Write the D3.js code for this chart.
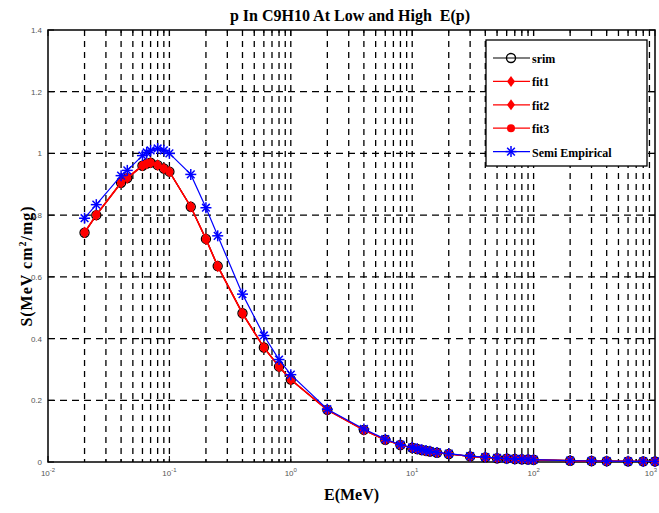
<!DOCTYPE html>
<html>
<head>
<meta charset="utf-8">
<script src="https://cdn.jsdelivr.net/npm/d3@7"></script>
<style>
  body { margin: 0; background: #fff; }
  svg { display: block; }
</style>
</head>
<body>
<svg id="chart"></svg>
<script>
// data
const energy = [0.02, 0.025, 0.04, 0.045, 0.06, 0.065, 0.07, 0.08, 0.09, 0.1, 0.15, 0.2, 0.25, 0.4, 0.6, 0.8, 1,
  2, 4, 6, 8, 10, 11, 12, 13, 14, 16, 20, 30, 40, 50, 60, 70, 80, 90, 100, 200, 300, 400, 600, 800, 1000];
const srim = [0.743, 0.80, 0.905, 0.92, 0.96, 0.967, 0.97, 0.962, 0.951, 0.941, 0.827, 0.723, 0.635, 0.482, 0.371, 0.309, 0.267,
  0.169, 0.104, 0.072, 0.055, 0.046, 0.042, 0.039, 0.036, 0.034, 0.030, 0.026, 0.018, 0.015, 0.012, 0.011, 0.0095, 0.0087, 0.008, 0.0072, 0.0042, 0.0031, 0.0026, 0.0021, 0.0019, 0.0018];
const fit1 = [0.745, 0.802, 0.907, 0.922, 0.962, 0.968, 0.971, 0.963, 0.952, 0.942, 0.826, 0.721, 0.633, 0.480, 0.370, 0.308, 0.266,
  0.168, 0.103, 0.071, 0.055, 0.046, 0.042, 0.039, 0.036, 0.034, 0.030, 0.026, 0.018, 0.015, 0.012, 0.011, 0.0095, 0.0087, 0.008, 0.0072, 0.0042, 0.0031, 0.0026, 0.0021, 0.0019, 0.0018];
const fit2 = [0.742, 0.799, 0.904, 0.919, 0.959, 0.966, 0.969, 0.961, 0.950, 0.940, 0.828, 0.724, 0.636, 0.483, 0.372, 0.310, 0.268,
  0.169, 0.104, 0.072, 0.055, 0.046, 0.042, 0.039, 0.036, 0.034, 0.030, 0.026, 0.018, 0.015, 0.012, 0.011, 0.0095, 0.0087, 0.008, 0.0072, 0.0042, 0.0031, 0.0026, 0.0021, 0.0019, 0.0018];
const fit3 = [0.744, 0.801, 0.906, 0.921, 0.961, 0.967, 0.970, 0.962, 0.951, 0.941, 0.827, 0.722, 0.634, 0.481, 0.371, 0.309, 0.267,
  0.169, 0.104, 0.072, 0.055, 0.046, 0.042, 0.039, 0.036, 0.034, 0.030, 0.026, 0.018, 0.015, 0.012, 0.011, 0.0095, 0.0087, 0.008, 0.0072, 0.0042, 0.0031, 0.0026, 0.0021, 0.0019, 0.0018];
const semi = [0.79, 0.834, 0.928, 0.945, 0.993, 1.003, 1.01, 1.016, 1.01, 1.0, 0.932, 0.824, 0.733, 0.544, 0.41, 0.332, 0.283,
  0.171, 0.107, 0.074, 0.056, 0.047, 0.043, 0.040, 0.037, 0.035, 0.031, 0.027, 0.019, 0.016, 0.013, 0.011, 0.010, 0.009, 0.0083, 0.0075, 0.0045, 0.0033, 0.0028, 0.0023, 0.002, 0.0019];
const yTicks = [0, 0.2, 0.4, 0.6, 0.8, 1, 1.2, 1.4];
const xDecades = [-2, -1, 0, 1, 2, 3];
const legendNames = ["srim", "fit1", "fit2", "fit3", "Semi Empirical"];

const width = 659;
const height = 513;
const margin = { left: 48, right: 4, top: 30, bottom: 51 };
const visWidth = width - margin.left - margin.right;
const visHeight = height - margin.top - margin.bottom;

const svg = d3.select('#chart')
  .attr('width', width)
  .attr('height', height);

const chart = svg.append('g')
  .attr('transform', 'translate(' + margin.left + ',' + margin.top + ')');

const x = d3.scaleLog().domain([0.01, 1000]).range([0, visWidth]);
const y = d3.scaleLinear().domain([0, 1.4]).range([visHeight, 0]);

// grid values: every 1..9 in each decade
const gridX = [];
xDecades.slice(0, -1).forEach(p => {
  for (let k = 1; k <= 9; k++) gridX.push(k * Math.pow(10, p));
});
gridX.push(1000);

// dashed grid
chart.append('g').selectAll('line')
  .data(gridX.slice(1, -1))
  .enter().append('line')
  .attr('x1', d => x(d)).attr('x2', d => x(d))
  .attr('y1', 0).attr('y2', visHeight)
  .attr('stroke', '#000')
  .attr('stroke-width', 1.3)
  .attr('stroke-dasharray', '6,5');

chart.append('g').selectAll('line')
  .data(yTicks.slice(1, -1))
  .enter().append('line')
  .attr('x1', 0).attr('x2', visWidth)
  .attr('y1', d => y(d)).attr('y2', d => y(d))
  .attr('stroke', '#000')
  .attr('stroke-width', 1.3)
  .attr('stroke-dasharray', '7,5');

// inward ticks on all four sides
const tickG = chart.append('g').attr('stroke', '#000').attr('stroke-width', 1);
gridX.forEach(d => {
  const len = Number.isInteger(Math.log10(d)) && d >= 0.01 ? 6 : 3;
  tickG.append('line').attr('x1', x(d)).attr('x2', x(d)).attr('y1', visHeight).attr('y2', visHeight - len);
  tickG.append('line').attr('x1', x(d)).attr('x2', x(d)).attr('y1', 0).attr('y2', len);
});
yTicks.forEach(d => {
  tickG.append('line').attr('x1', 0).attr('x2', 6).attr('y1', y(d)).attr('y2', y(d));
  tickG.append('line').attr('x1', visWidth).attr('x2', visWidth - 6).attr('y1', y(d)).attr('y2', y(d));
});

// frame
chart.append('rect')
  .attr('width', visWidth).attr('height', visHeight)
  .attr('fill', 'none').attr('stroke', '#000').attr('stroke-width', 1.5);

// tick labels
chart.append('g').selectAll('text')
  .data(yTicks)
  .enter().append('text')
  .attr('x', -6)
  .attr('y', d => y(d) + 3)
  .attr('text-anchor', 'end')
  .style('font', '8px "Liberation Sans", Arial, sans-serif')
  .style('fill', '#555')
  .text(d => d);

const xl = chart.append('g').selectAll('text')
  .data(xDecades)
  .enter().append('text')
  .attr('x', (d, i) => i === xDecades.length - 1 ? visWidth + 2 : x(Math.pow(10, d)))
  .attr('y', visHeight + 14)
  .attr('text-anchor', (d, i) => i === xDecades.length - 1 ? 'end' : 'middle')
  .style('font', '8px "Liberation Sans", Arial, sans-serif')
  .style('fill', '#555');
xl.append('tspan').text('10');
xl.append('tspan').attr('dy', -4).style('font-size', '6px').text(d => d);

// series
const line = d3.line().x((d, i) => x(energy[i])).y(d => y(d));
const series = [
  { vals: srim, color: '#000', marker: 'circle' },
  { vals: fit1, color: '#ff0000', marker: 'diamond' },
  { vals: fit2, color: '#ff0000', marker: 'diamond' },
  { vals: fit3, color: '#ff0000', marker: 'dot' },
  { vals: semi, color: '#0000ff', marker: 'star' }
];

function drawMarker(g, type, color, cx, cy) {
  if (type === 'circle') {
    g.append('circle').attr('cx', cx).attr('cy', cy).attr('r', 4.5)
      .attr('fill', 'none').attr('stroke', color).attr('stroke-width', 1.4);
  } else if (type === 'diamond') {
    g.append('path')
      .attr('d', 'M' + cx + ',' + (cy - 5.5) + 'L' + (cx + 4) + ',' + cy + 'L' + cx + ',' + (cy + 5.5) + 'L' + (cx - 4) + ',' + cy + 'Z')
      .attr('fill', color);
  } else if (type === 'dot') {
    g.append('circle').attr('cx', cx).attr('cy', cy).attr('r', 4).attr('fill', color);
  } else if (type === 'star') {
    const r = 5.5;
    [[r, 0], [0, r], [r * 0.7, r * 0.7], [r * 0.7, -r * 0.7]].forEach(v => {
      g.append('line')
        .attr('x1', cx - v[0]).attr('y1', cy - v[1])
        .attr('x2', cx + v[0]).attr('y2', cy + v[1])
        .attr('stroke', color).attr('stroke-width', 1.5);
    });
  }
}

series.forEach(s => {
  chart.append('path')
    .datum(s.vals)
    .attr('d', line)
    .attr('fill', 'none')
    .attr('stroke', s.color)
    .attr('stroke-width', 1.2);
  const mg = chart.append('g');
  s.vals.forEach((v, i) => drawMarker(mg, s.marker, s.color, x(energy[i]), y(v)));
});

// legend
const lg = svg.append('g').attr('transform', 'translate(486,40)');
lg.append('rect').attr('width', 161).attr('height', 126)
  .attr('fill', '#fff').attr('stroke', '#000').attr('stroke-width', 1.3);
legendNames.forEach((name, i) => {
  const ly = 18 + i * 23.4;
  const s = series[i];
  lg.append('line').attr('x1', 7).attr('x2', 44).attr('y1', ly).attr('y2', ly)
    .attr('stroke', s.color).attr('stroke-width', 1.2);
  drawMarker(lg, s.marker, s.color, 25, ly);
  lg.append('text').attr('x', 46).attr('y', ly + 5)
    .style('font', 'bold 12px "Liberation Serif", "Times New Roman", serif')
    .text(name);
});

// title and axis labels
svg.append('text')
  .attr('x', 350).attr('y', 21)
  .attr('text-anchor', 'middle')
  .style('font', 'bold 16px "Liberation Serif", "Times New Roman", serif')
  .style('white-space', 'pre')
  .text('p In C9H10 At Low and High  E(p)');

svg.append('text')
  .attr('x', margin.left + visWidth / 2).attr('y', 500)
  .attr('text-anchor', 'middle')
  .style('font', 'bold 16px "Liberation Serif", "Times New Roman", serif')
  .text('E(MeV)');

const yl = svg.append('text')
  .attr('transform', 'translate(32,' + (margin.top + visHeight / 2 + 20) + ') rotate(-90)')
  .attr('text-anchor', 'middle')
  .style('font', 'bold 16px "Liberation Serif", "Times New Roman", serif')
  .style('letter-spacing', '1px');
yl.append('tspan').text('S(MeV cm');
yl.append('tspan').attr('dy', -6).style('font-size', '10px').text('2');
yl.append('tspan').attr('dy', 6).text('/mg)');
</script>
</body>
</html>
